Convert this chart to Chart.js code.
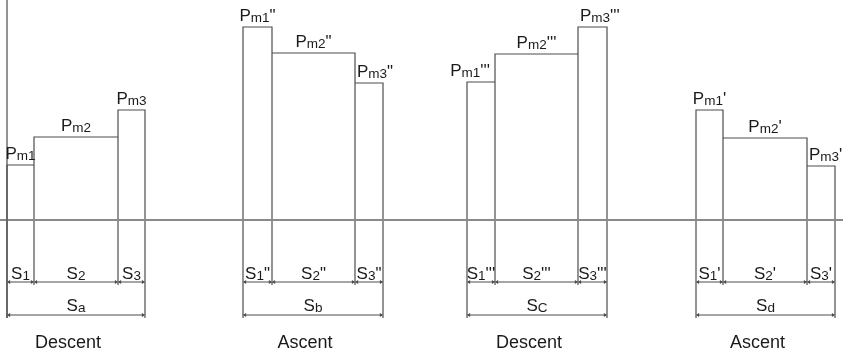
<!DOCTYPE html>
<html>
<head>
<meta charset="utf-8">
<script src="https://cdn.jsdelivr.net/npm/chart.js@4/dist/chart.umd.min.js"></script>
<style>
  html, body { margin: 0; padding: 0; background: #fff; }
  #wrap { width: 843px; height: 353px; }
</style>
</head>
<body>
<div id="wrap"><canvas id="diagram" width="843" height="353"></canvas></div>
<script>
// Dados do diagrama (distâncias no eixo x, pressões no eixo y)
const phaseLabels = ['Descent', 'Ascent', 'Descent', 'Ascent'];
const totalSubs = ['a', 'b', 'C', 'd'];
const primeMarks = ['', '"', "'''", "'"];
const stageEdgesA = [7, 34, 118, 145];
const stageEdgesB = [243, 272, 355, 383];
const stageEdgesC = [467, 495, 578, 607];
const stageEdgesD = [696, 723, 807, 835];
const pressureA = [55, 83, 110];
const pressureB = [193, 167, 137];
const pressureC = [138, 166, 193];
const pressureD = [110, 82, 54];

const stageEdges = [stageEdgesA, stageEdgesB, stageEdgesC, stageEdgesD];
const pressures = [pressureA, pressureB, pressureC, pressureD];

// níveis abaixo da linha de base
const innerDepth = -65;
const outerDepth = -98;
const stageDimLevel = -62;
const totalDimLevel = -95;

const LINE = '#4d4d4d';
const TEXT = '#1a1a1a';

const datasets = [];

// eixo vertical e linha de base
datasets.push({
    data: [{ x: 7, y: 220 }, { x: 7, y: outerDepth }],
    borderColor: LINE, borderWidth: 1.2, pointRadius: 0
});
datasets.push({
    data: [{ x: 0, y: 0 }, { x: 843, y: 0 }],
    borderColor: '#8a8a8a', borderWidth: 2, pointRadius: 0
});

stageEdges.forEach((e, g) => {
    const h = pressures[g];
    // contorno das barras
    datasets.push({
        data: [
            { x: e[0], y: outerDepth }, { x: e[0], y: h[0] }, { x: e[1], y: h[0] },
            { x: e[1], y: h[1] }, { x: e[2], y: h[1] }, { x: e[2], y: h[2] },
            { x: e[3], y: h[2] }, { x: e[3], y: outerDepth },
            { x: e[3], y: null },
            { x: e[1], y: Math.min(h[0], h[1]) }, { x: e[1], y: innerDepth },
            { x: e[1], y: null },
            { x: e[2], y: Math.min(h[1], h[2]) }, { x: e[2], y: innerDepth }
        ],
        borderColor: LINE, borderWidth: 1.2, pointRadius: 0, spanGaps: false
    });
    // cotas S1, S2, S3 e total
    const dims = [
        [e[0], e[1], stageDimLevel], [e[1], e[2], stageDimLevel],
        [e[2], e[3], stageDimLevel], [e[0], e[3], totalDimLevel]
    ];
    dims.forEach(d => {
        datasets.push({
            data: [{ x: d[0] + 2, y: d[2] }, { x: d[1] - 2, y: d[2] }],
            borderColor: LINE, borderWidth: 1,
            pointStyle: 'triangle', pointRadius: 2.2,
            pointRotation: ctx => ctx.dataIndex === 0 ? 270 : 90,
            pointBackgroundColor: LINE, pointBorderColor: LINE, pointBorderWidth: 0
        });
    });
});

// texto com índice (P m1 ', S 2 '' ...)
function drawSubLabel(ctx, main, sub, prime, x, y, align, mainSize) {
    const mainFont = mainSize + 'px "Liberation Sans", Arial, sans-serif';
    const subFont = (mainSize - 3.5) + 'px "Liberation Sans", Arial, sans-serif';
    ctx.font = mainFont;
    const wMain = ctx.measureText(main).width;
    const wPrime = prime ? ctx.measureText(prime).width : 0;
    ctx.font = subFont;
    const wSub = ctx.measureText(sub).width;
    const total = wMain + wSub + wPrime;
    let left = x;
    if (align === 'center') left = x - total / 2;
    else if (align === 'right') left = x - total;
    ctx.textAlign = 'left';
    ctx.textBaseline = 'alphabetic';
    ctx.fillStyle = TEXT;
    ctx.font = mainFont;
    ctx.fillText(main, left, y);
    ctx.font = subFont;
    ctx.fillText(sub, left + wMain, y + 0.5);
    if (prime) {
        ctx.font = mainFont;
        ctx.fillText(prime, left + wMain + wSub, y);
    }
}

const labelPlugin = {
    id: 'labels',
    afterDatasetsDraw(chart) {
        const ctx = chart.ctx;
        const xs = chart.scales.x, ys = chart.scales.y;
        ctx.save();
        stageEdges.forEach((e, g) => {
            const h = pressures[g];
            const pr = primeMarks[g];
            for (let i = 0; i < 3; i++) {
                const xl = xs.getPixelForValue(e[i]);
                const xr = xs.getPixelForValue(e[i + 1]);
                const top = ys.getPixelForValue(h[i]);
                let align = 'center', ax = (xl + xr) / 2;
                if (i === 2 && g > 0) { align = 'left'; ax = xl + 2; }
                if (i === 0 && g === 2) { align = 'right'; ax = xr - 5; }
                drawSubLabel(ctx, 'P', 'm' + (i + 1), pr, ax, top - 6, align, 17);
                drawSubLabel(ctx, 'S', String(i + 1), pr, (xl + xr) / 2,
                    ys.getPixelForValue(stageDimLevel) - 3, 'center', 17);
            }
            const x0 = xs.getPixelForValue(e[0]);
            const x3 = xs.getPixelForValue(e[3]);
            drawSubLabel(ctx, 'S', totalSubs[g], '', (x0 + x3) / 2,
                ys.getPixelForValue(totalDimLevel) - 4, 'center', 17);
            ctx.font = '18px "Liberation Sans", Arial, sans-serif';
            ctx.fillStyle = TEXT;
            ctx.textAlign = 'center';
            ctx.fillText(phaseLabels[g], (x0 + x3) / 2 - 8, ys.getPixelForValue(-128));
        });
        ctx.restore();
    }
};

new Chart(document.getElementById('diagram'), {
    type: 'line',
    data: { datasets: datasets },
    options: {
        responsive: false,
        animation: false,
        devicePixelRatio: 1,
        parsing: false,
        normalized: true,
        layout: { padding: 0, autoPadding: false },
        plugins: { legend: { display: false }, tooltip: { enabled: false } },
        elements: { line: { tension: 0, fill: false } },
        scales: {
            x: { type: 'linear', min: 0, max: 843, display: false },
            y: { type: 'linear', min: -133, max: 220, display: false }
        }
    },
    plugins: [labelPlugin]
});
</script>
</body>
</html>
